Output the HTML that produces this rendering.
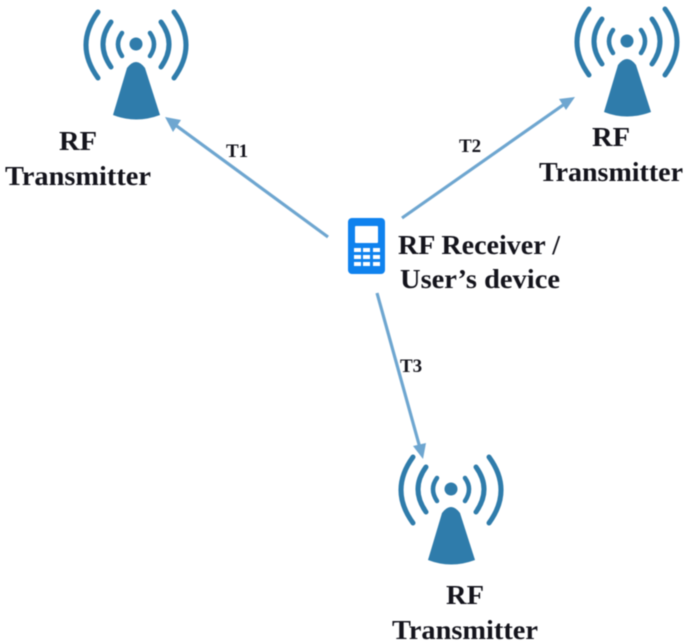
<!DOCTYPE html>
<html>
<head>
<meta charset="utf-8">
<style>
html,body{margin:0;padding:0;background:#fff;}
svg{display:block;filter:blur(.5px);}
text{font-family:"Liberation Serif",serif;font-weight:bold;fill:#14141c;}
</style>
</head>
<body>
<svg width="685" height="642" viewBox="0 0 685 642" xmlns="http://www.w3.org/2000/svg">
<defs>
<g id="ant">
<circle cx="0" cy="0" r="6.5" fill="#2f7cab"/>
<g fill="none" stroke="#2f7cab" stroke-linecap="round">
<path d="M-14,-11 Q-22,0 -14,12 M14,-11 Q22,0 14,12" stroke-width="4.5"/>
<path d="M-25,-22 Q-41,0 -25,23 M25,-22 Q41,0 25,23" stroke-width="5"/>
<path d="M-38,-32 Q-62,1 -38,34 M38,-32 Q62,1 38,34" stroke-width="5"/>
</g>
<path d="M-9,24 Q0,12 9,24 L24,71 Q0,80 -23,71 Z" fill="#2f7cab"/>
</g>
</defs>
<use href="#ant" x="136" y="44"/>
<use href="#ant" x="627" y="41"/>
<use href="#ant" x="451" y="489"/>
<g stroke="#6ea6d0" stroke-width="3.2" fill="none">
<line x1="328" y1="237" x2="174" y2="124"/>
<line x1="402" y1="218" x2="566" y2="103"/>
<line x1="377" y1="293" x2="420" y2="448"/>
</g>
<g fill="#6ea6d0">
<polygon points="165,117 181,120 173,132"/>
<polygon points="575,97 566,110 559,99"/>
<polygon points="423,459 413,446 426,443"/>
</g>
<rect x="348" y="218" width="37" height="56" rx="4" fill="#0f82ee"/>
<rect x="355" y="226" width="23" height="17" fill="#fff" rx="1"/>
<g fill="#fff">
<rect x="354" y="248" width="7" height="4"/><rect x="363" y="248" width="7" height="4"/><rect x="373" y="248" width="7" height="4"/>
<rect x="354" y="255" width="7" height="4"/><rect x="363" y="255" width="7" height="4"/><rect x="373" y="255" width="7" height="4"/>
<rect x="354" y="262" width="7" height="4"/><rect x="363" y="262" width="7" height="4"/><rect x="373" y="262" width="7" height="4"/>
</g>
<text x="59" y="150" font-size="27" textLength="38" lengthAdjust="spacingAndGlyphs">RF</text>
<text x="5" y="185" font-size="27" textLength="146" lengthAdjust="spacingAndGlyphs">Transmitter</text>
<text x="592" y="146" font-size="27" textLength="38" lengthAdjust="spacingAndGlyphs">RF</text>
<text x="539" y="181" font-size="27" textLength="144" lengthAdjust="spacingAndGlyphs">Transmitter</text>
<text x="446" y="604" font-size="27" textLength="38" lengthAdjust="spacingAndGlyphs">RF</text>
<text x="392" y="639" font-size="27" textLength="146" lengthAdjust="spacingAndGlyphs">Transmitter</text>
<text x="398" y="254" font-size="27" textLength="162" lengthAdjust="spacingAndGlyphs">RF Receiver /</text>
<text x="400" y="288" font-size="27" textLength="160" lengthAdjust="spacingAndGlyphs">User’s device</text>
<text x="226" y="157" font-size="19">T1</text>
<text x="459" y="152" font-size="19">T2</text>
<text x="400" y="372" font-size="19">T3</text>
</svg>
</body>
</html>
